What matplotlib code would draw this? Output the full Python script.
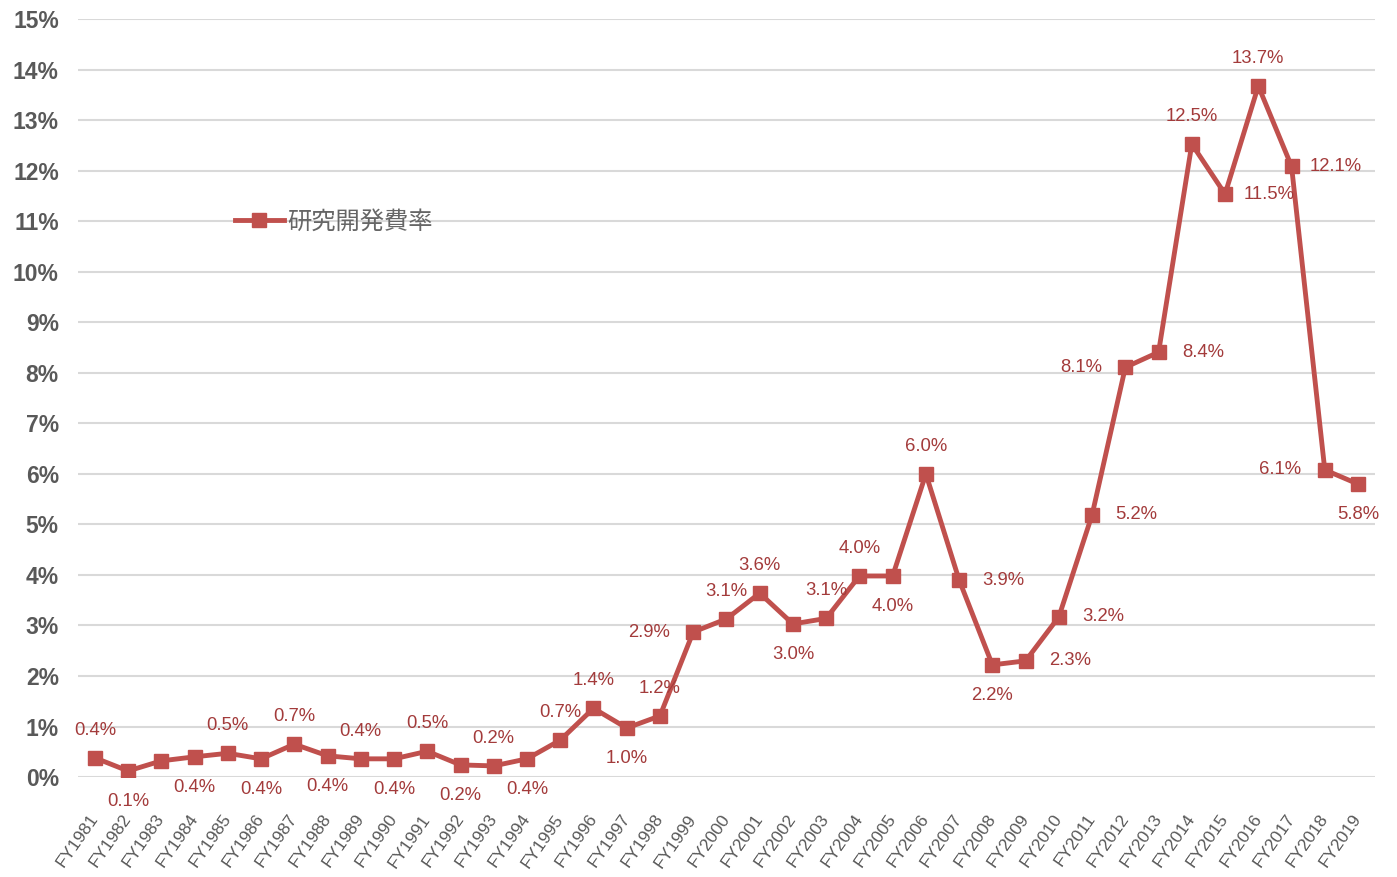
import matplotlib.pyplot as plt

# 研究開発費率 (R&D expense ratio), FY1981 - FY2019
years = [f"FY{y}" for y in range(1981, 2020)]
rd_ratio = [0.38, 0.12, 0.32, 0.40, 0.47, 0.36, 0.65, 0.42, 0.36, 0.36,
            0.51, 0.24, 0.22, 0.36, 0.73, 1.36, 0.97, 1.21, 2.87, 3.13,
            3.64, 3.03, 3.14, 3.98, 3.98, 6.00, 3.90, 2.22, 2.30, 3.17,
            5.19, 8.11, 8.41, 12.53, 11.54, 13.68, 12.09, 6.08, 5.80]
# where each data label sits: a=above, b=below, l=left, r=right, None = no label
label_pos = ['a', 'b', None, 'b', 'a', 'b', 'a', 'b', 'a', 'b',
             'a', 'b', 'a', 'b', 'a', 'a', 'b', 'a', 'l', 'a',
             'a', 'b', 'a', 'a', 'b', 'a', 'r', 'b', 'r', 'r',
             'r', 'l', 'r', 'a', 'r', 'a', 'r', 'l', 'b']
yticks = list(range(0, 16))

line_col = '#C0504D'
label_col = '#A33B3B'
gray = '#595959'

fig = plt.figure(figsize=(13.97, 8.77), dpi=100)
ax = fig.add_axes([0.056, 0.114, 0.928, 0.864])

x = list(range(len(years)))
ax.plot(x, rd_ratio, color=line_col, lw=3.5, marker='s', ms=10,
        label='研究開発費率', zorder=3)

offsets = {'a': (0, 20), 'b': (0, -22), 'l': (-32, 0), 'r': (32, 0)}
for xi, v, p in zip(x, rd_ratio, label_pos):
    if p is None:
        continue
    ax.annotate(f"{v:.1f}%", (xi, v), xytext=offsets[p], textcoords='offset points',
                ha='center', va='center', fontsize=13.3, color=label_col,
                family='Liberation Sans', zorder=4)

ax.set_xlim(-0.5, len(years) - 0.5)
ax.set_ylim(0, 15)
ax.set_yticks(yticks)
ax.set_yticklabels([f"{t}%" for t in yticks], fontsize=16.5, fontweight='bold',
                   color=gray, family='Liberation Sans')
ax.set_xticks(x)
ax.set_xticklabels(years, rotation=55, ha='right', va='center', rotation_mode='anchor',
                   fontsize=12.5, color=gray, family='Liberation Sans')
ax.tick_params(axis='y', length=0, pad=14)
ax.tick_params(axis='x', length=0, pad=28)
ax.grid(axis='y', color='#D9D9D9', lw=1.5, zorder=0)
ax.set_axisbelow(True)
for s in ax.spines.values():
    s.set_visible(False)

leg = ax.legend(loc='center left', bbox_to_anchor=(0.121, 0.733), frameon=False,
                prop={'family': ['Noto Sans CJK JP', 'DejaVu Sans'], 'size': 17.5},
                handlelength=2.0, handletextpad=0.15, borderaxespad=0, borderpad=0)
for t in leg.get_texts():
    t.set_color('#666666')

fig.savefig('out.png', dpi=100)
